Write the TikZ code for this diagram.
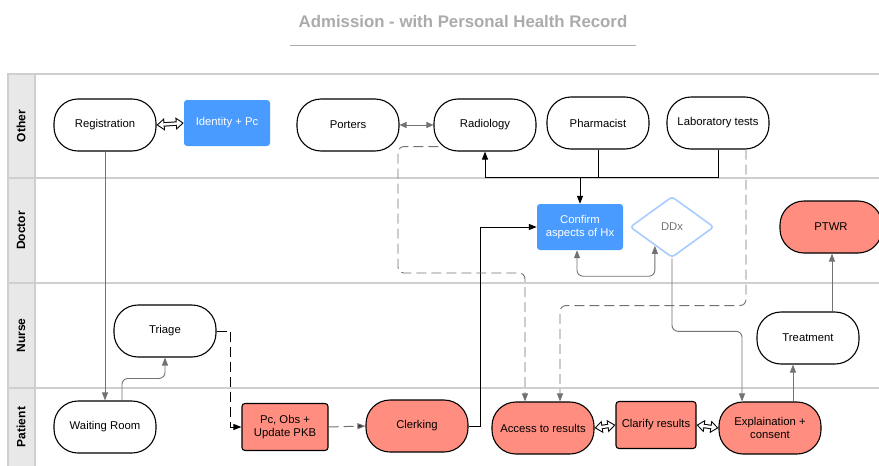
\documentclass[tikz,border=0pt]{standalone}
\usepackage{fontspec}
\setmainfont{Liberation Sans}
\usetikzlibrary{arrows.meta,shapes.geometric,calc}

\definecolor{laneline}{HTML}{CFCFCF}
\definecolor{headfill}{HTML}{E8E8E8}
\definecolor{boxblue}{HTML}{4A9BFF}
\definecolor{ddxblue}{HTML}{A9CCFF}
\definecolor{salmon}{HTML}{FF8E80}
\definecolor{conngray}{HTML}{727272}
\definecolor{titlegray}{HTML}{ABABAB}

% hollow two-headed block arrow between two anchors
\newcommand\hollowlink[2]{%
  \draw[hollowouter] (#1) -- (#2);
  \draw[hollowinner] (#1) -- (#2);}

\begin{document}
\begin{tikzpicture}[x=1pt,y=-1pt,
  font=\fontsize{11.3}{13.5}\selectfont,
  stadium/.style={draw,line width=1.1pt,rounded corners=24pt,
    minimum width=102pt,minimum height=52pt,align=center,fill=white,inner sep=2pt},
  hot/.style={fill=salmon},
  bluebox/.style={fill=boxblue,text=white,rounded corners=3pt,
    minimum width=86pt,minimum height=46pt,align=center,inner sep=2pt},
  redbox/.style={draw,line width=1.1pt,fill=salmon,rounded corners=3pt,
    minimum height=47pt,align=center,inner sep=2pt},
  lanelabel/.style={rotate=90,font=\fontsize{12}{14}\selectfont\bfseries},
  grayconn/.style={draw=conngray,line width=0.9pt,rounded corners=6pt,
    -{Triangle[length=8pt,width=6pt]}},
  blackconn/.style={draw=black,line width=1pt,
    -{Triangle[length=8pt,width=6pt]}},
  dashconn/.style={dash pattern=on 10pt off 5pt},
  hollowouter/.style={draw=black,line width=4.4pt,
    {Triangle[length=8pt,width=12pt]}-{Triangle[length=8pt,width=12pt]}},
  hollowinner/.style={draw=white,line width=2.4pt,shorten <=1.7pt,shorten >=1.7pt,
    {Triangle[length=5.3pt,width=8pt]}-{Triangle[length=5.3pt,width=8pt]}}
]
\useasboundingbox (0,0) rectangle (879,466);

% title
\node[font=\fontsize{16.8}{19}\selectfont\bfseries,text=titlegray] (title) at (463,21)
  {Admission - with Personal Health Record};
\draw[draw=titlegray,line width=1pt] (290,45) -- (636,45);

% swimlanes
\fill[headfill] (8,74) rectangle (35,466);
\draw[laneline,line width=1.5pt] (8,466) -- (8,74) -- (879,74);
\draw[laneline,line width=1.5pt] (35,74) -- (35,466);
\foreach \yy in {178,283,388}
  \draw[laneline,line width=1.5pt] (8,\yy) -- (879,\yy);
\node[lanelabel] (lother) at (21,126) {Other};
\node[lanelabel] (ldoctor) at (21,230.5) {Doctor};
\node[lanelabel] (lnurse) at (21,335.5) {Nurse};
\node[lanelabel] (lpatient) at (21,427) {Patient};

% Other lane
\node[stadium] (registration) at (105,125) {Registration};
\node[bluebox] (identity) at (227,123) {Identity + Pc};
\node[stadium] (porters) at (348,125) {Porters};
\node[stadium] (radiology) at (485,125) {Radiology};
\node[stadium] (pharm) at (598,123) {Pharmacist};
\node[stadium] (lab) at (718,123) {Laboratory tests};

% Doctor lane
\node[bluebox] (confirm) at (580,227) {Confirm\\aspects of Hx};
\node[diamond,draw=ddxblue,line width=1.6pt,rounded corners=3pt,aspect=1.38,
  minimum width=84pt,minimum height=61pt,inner sep=0pt,text=conngray] (ddx) at (672,227) {DDx};
\node[stadium,hot] (ptwr) at (831,227) {PTWR};

% Nurse lane
\node[stadium] (triage) at (165,331) {Triage};
\node[stadium] (treatment) at (808,338) {Treatment};

% Patient lane
\node[stadium] (waiting) at (105,427) {Waiting Room};
\node[redbox,minimum width=86pt] (pcobs) at (285,427) {Pc, Obs +\\Update PKB};
\node[stadium,hot] (clerking) at (417,426) {Clerking};
\node[stadium,hot] (access) at (543,428) {Access to results};
\node[redbox,minimum width=80pt] (clarify) at (656,425) {Clarify results};
\node[stadium,hot] (expl) at (770,428) {Explaination +\\consent};

% connectors
\hollowlink{registration.east}{identity.west}
\draw[grayconn] (registration.south) -- (waiting.north);
\draw[grayconn] ([xshift=17pt]waiting.north) -- ++(0,-22) -| (triage.south);
\draw[blackconn,dashconn] (triage.east) -- ++(14,0) |- (pcobs.west);
\draw[draw=conngray,line width=1pt,dashconn,-{Triangle[length=8pt,width=6pt,fill=black!80]}]
  (pcobs.east) -- (clerking.west);
\draw[blackconn] (clerking.east) -- ++(12,0) |- (confirm.west);
\draw[grayconn,{Triangle[length=7pt,width=6pt]}-{Triangle[length=7pt,width=6pt]}]
  (porters.east) -- (radiology.west);
\draw[blackconn] (lab.south) -- (lab.south |- 0,177) -| (radiology.south);
\draw[blackconn] (pharm.south) -- (pharm.south |- 0,177) -| (confirm.north);
\draw[grayconn,dashconn] ([xshift=5pt,yshift=5pt]radiology.south west) -| (398,273)
  -| ([xshift=-18pt]access.north);
\draw[grayconn,dashconn] ([xshift=28pt]lab.south) -- ++(0,156) -| ([xshift=17pt]access.north);
\coordinate (ddxin) at ($(ddx.south)!0.4!(ddx.west)$);
\draw[grayconn,{Triangle[length=8pt,width=6pt]}-{Triangle[length=8pt,width=6pt]}]
  ([xshift=-3pt]confirm.south) -- ++(0,26) -| (ddxin);
\draw[grayconn] (ddx.south) -- ++(0,73) -| ([xshift=-28pt]expl.north);
\draw[grayconn] ([xshift=23pt]expl.north) -- ([xshift=-15pt]treatment.south);
\draw[grayconn] ([xshift=24pt]treatment.north) -- ([xshift=1pt]ptwr.south);
\hollowlink{access.east}{clarify.west}
\hollowlink{clarify.east}{expl.west}
\end{tikzpicture}
\end{document}
